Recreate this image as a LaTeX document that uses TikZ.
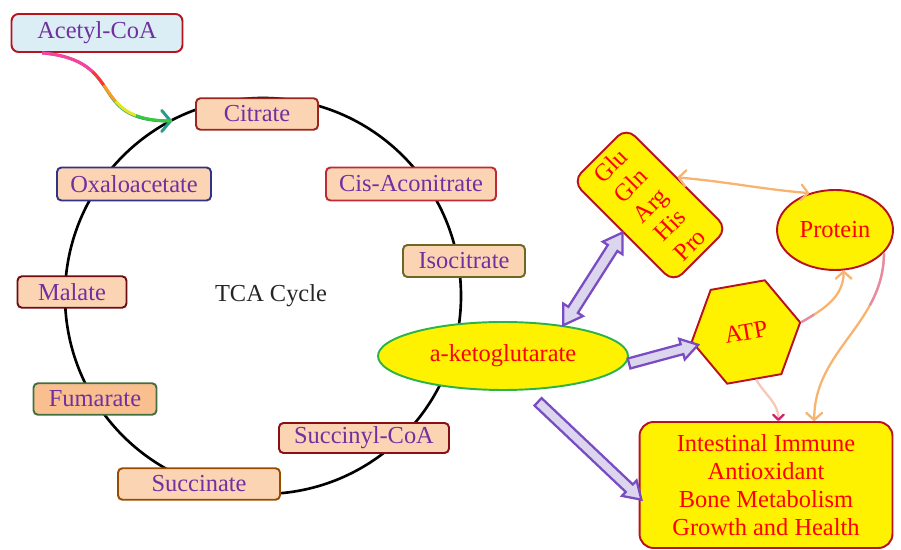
\documentclass[tikz,border=0pt]{standalone}
\usepackage{fontspec}
\setmainfont{Liberation Serif}
\usetikzlibrary{shapes.geometric,shapes.arrows,arrows.meta,calc}

\definecolor{txtpurple}{HTML}{7030A0}
\definecolor{peach}{HTML}{FBD4B4}
\definecolor{peachdark}{HTML}{F9BF8F}
\definecolor{iceblue}{HTML}{DCEEF5}
\definecolor{boxred}{HTML}{B8121E}
\definecolor{kggreen}{HTML}{2BB34A}
\definecolor{fatfill}{HTML}{DCD5EE}
\definecolor{fatdraw}{HTML}{7A4CC4}
\definecolor{lineorange}{HTML}{F8B46E}
\definecolor{linepink}{HTML}{E68AA6}
\definecolor{tipmagenta}{HTML}{D0206E}
\definecolor{acpink}{HTML}{FF3FA0}
\definecolor{acred}{HTML}{FF3434}
\definecolor{acorange}{HTML}{FF9A1A}
\definecolor{acyellow}{HTML}{E2E61A}
\definecolor{acgreen}{HTML}{3CC83C}
\definecolor{acteal}{HTML}{2A9A8A}

\begin{document}
\begin{tikzpicture}[x=0.02cm, y=0.02cm,
        every node/.style = {font=\fontsize{13.9}{15.9}\selectfont},
        stepbox/.style = {draw, line width=1.1pt, fill=peach, text=txtpurple,
                          rounded corners=2.5pt, inner sep=0pt, minimum height=0.63cm},
        yellowbox/.style = {draw=boxred, line width=1.1pt, fill=yellow, text=red, inner sep=0pt},
        fatone/.style = {single arrow, draw=fatdraw, fill=fatfill, line width=1.3pt,
                         inner xsep=0pt, inner ysep=0.08cm, single arrow head extend=0.11cm,
                         single arrow tip angle=65},
        fattwo/.style = {double arrow, draw=fatdraw, fill=fatfill, line width=1.3pt,
                         inner xsep=0pt, inner ysep=0.09cm, double arrow head extend=0.12cm,
                         double arrow tip angle=65},
        thinline/.style = {line width=1.3pt, draw=lineorange},
        >={Straight Barb[length=4pt,width=9pt,round]}]
    \useasboundingbox (0,0) rectangle (901,550);

    % TCA cycle
    \draw[line width=1.5pt] (263,254) circle[radius=198];
    \node[text=black!85] (tca) at (271,254) {TCA Cycle};

    \node[stepbox, draw=boxred, fill=iceblue, rounded corners=4pt, minimum width=3.42cm,
          minimum height=0.76cm] (acetyl) at (97,517) {Acetyl-CoA};
    \node[stepbox, draw=black!20!boxred!80!brown, minimum width=2.44cm] (citrate) at (257,436) {Citrate};
    \node[stepbox, draw=blue!40!black!80, minimum width=3.08cm, minimum height=0.66cm] (oxalo) at (134,366) {Oxaloacetate};
    \node[stepbox, draw=boxred!90, minimum width=3.4cm, minimum height=0.66cm] (cisacon) at (411,366) {Cis-Aconitrate};
    \node[stepbox, draw=olive!70!black, minimum width=2.44cm, minimum height=0.64cm] (isocit) at (464,289) {Isocitrate};
    \node[stepbox, draw=boxred!60!black, minimum width=2.18cm] (malate) at (72,258) {Malate};
    \node[stepbox, draw=green!25!black!75, fill=peachdark, minimum width=2.46cm] (fumarate) at (95,151) {Fumarate};
    \node[stepbox, draw=boxred!75!black, minimum width=3.4cm, minimum height=0.6cm] (succoa) at (364,112) {Succinyl-CoA};
    \node[stepbox, draw=orange!60!black, minimum width=3.24cm] (succinate) at (199,66) {Succinate};

    % products
    \node[ellipse, draw=kggreen, line width=1.1pt, fill=yellow, text=red, inner sep=0pt,
          minimum width=5cm, minimum height=1.36cm] (kg) at (503,194) {a-ketoglutarate};
    \node[yellowbox, rotate=45, rounded corners=7pt, align=center, minimum width=1.52cm,
          minimum height=2.86cm] (amino) at (650,345) {Glu\\Gln\\Arg\\His\\Pro};
    \node[yellowbox, ellipse, minimum width=2.32cm, minimum height=1.6cm] (prot) at (835,320) {Protein};
    \node[yellowbox, regular polygon, regular polygon sides=6, rotate=10,
          minimum size=2.2cm] (atp) at (746,218) {ATP};
    \node[yellowbox, rounded corners=8pt, align=center, minimum width=5.06cm,
          minimum height=2.52cm] (health) at (766,65)
          {Intestinal Immune\\Antioxidant\\Bone Metabolism\\Growth and Health};

    % fat arrows
    \path let \p1=(kg.27), \p2=(amino.west), \n1={atan2(\y2-\y1,\x2-\x1)},
              \n2={veclen(\x2-\x1,\y2-\y1)} in
          node[fattwo, rotate=\n1, minimum height=\n2] (kgamino) at ($(\p1)!0.5!(\p2)$) {};
    \path let \p1=(kg.-4), \p2=(atp.185), \n1={atan2(\y2-\y1,\x2-\x1)},
              \n2={veclen(\x2-\x1,\y2-\y1)} in
          node[fatone, rotate=\n1, minimum height=\n2] (kgatp) at ($(\p1)!0.5!(\p2)$) {};
    \path let \p1=([shift={(32,-8)}]kg.south), \p2=([shift={(0,-12)}]health.west),
              \n1={atan2(\y2-\y1,\x2-\x1)}, \n2={veclen(\x2-\x1,\y2-\y1)} in
          node[fatone, rotate=\n1, minimum height=\n2] (kghealth) at ($(\p1)!0.5!(\p2)$) {};

    % thin arrows
    \draw[thinline, <->] (amino.east) to[out=-5, in=175] (prot.125);
    \draw[thinline, ->] (atp.east) to[out=30, in=-90] (prot.-78);
    \draw[thinline, draw=linepink, dash pattern=on 0.3cm off 30cm] (atp.east) to[out=30, in=-90] (prot.-78);
    \draw[thinline, ->] (prot.-25) to[out=-90, in=90] (health.53);
    \draw[thinline, draw=linepink, dash pattern=on 1.1cm off 30cm] (prot.-25) to[out=-90, in=90] (health.53);
    \draw[thinline, draw=lineorange!60!linepink!60, -{Straight Barb[length=3pt,width=6pt,round,color=tipmagenta]}]
          (atp.-88) to[out=-60, in=90] (health.79);

    % acetyl-CoA feeding in
    \coordinate (acin) at (172,429);
    \draw[line width=1.7pt, draw=acteal, -{Straight Barb[length=5pt,width=12pt,round]}]
          (acetyl.200) to[out=-5, in=180, looseness=1.5] (acin);
    \foreach \c/\s/\l in {acpink/0/1.1, acred/1.1/0.35, acorange/1.45/0.4, acyellow/1.85/0.5, acgreen/2.35/0.8} {
        \pgfmathsetmacro\ph{30+\l-\s}
        \draw[line width=1.7pt, draw=\c, dash pattern=on \l cm off 30cm, dash phase=\ph cm]
              (acetyl.200) to[out=-5, in=180, looseness=1.5] (acin);
    }
\end{tikzpicture}
\end{document}
